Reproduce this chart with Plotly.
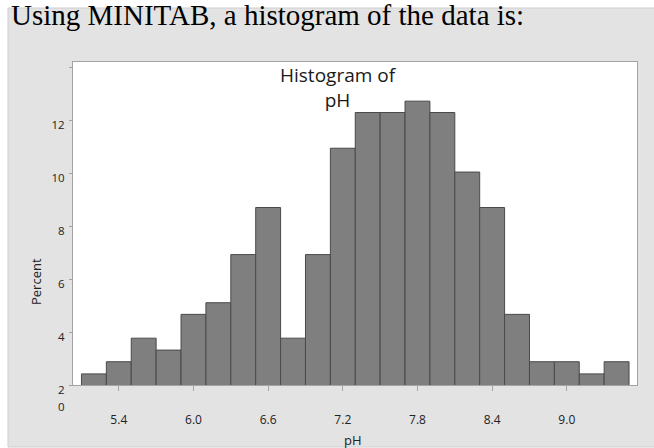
import plotly.graph_objects as go

# pH histogram: bin centres (bin width 0.2) and bar heights in percent as read on the axis
bin_centers = [5.2, 5.4, 5.6, 5.8, 6.0, 6.2, 6.4, 6.6, 6.8, 7.0, 7.2,
               7.4, 7.6, 7.8, 8.0, 8.2, 8.4, 8.6, 8.8, 9.0, 9.2, 9.4]
percent = [2.42, 2.88, 3.77, 3.32, 4.67, 5.11, 6.93, 8.71, 3.77, 6.93, 10.95,
           12.30, 12.30, 12.73, 12.30, 10.05, 8.71, 4.67, 2.88, 2.88, 2.42, 2.88]
bin_width = 0.2

x_ticks = [5.4, 6.0, 6.6, 7.2, 7.8, 8.4, 9.0]
x_tick_labels = ["5.4", "6.0", "6.6", "7.2", "7.8", "8.4", "9.0"]
y_ticks = [2, 4, 6, 8, 10, 12, 14]
y_tick_labels = ["2", "4", "6", "8", "10", "12", ""]

W, H = 654, 448
L, R, T, B = 73, 17, 62, 63
PW, PH = W - L - R, H - T - B


def px(x):
    return (x - L) / PW


def py(y):
    return (H - B - y) / PH


FONT = "Open Sans"
AXIS_GREY = "#a3a3a3"

fig = go.Figure(
    go.Bar(
        x=bin_centers,
        y=percent,
        width=bin_width,
        marker=dict(color="#7f7f7f", line=dict(color="#4a4a4a", width=1)),
        hoverinfo="x+y",
    )
)

fig.update_layout(
    width=W,
    height=H,
    margin=dict(l=L, r=R, t=T, b=B, pad=0),
    paper_bgcolor="white",
    plot_bgcolor="white",
    showlegend=False,
    font=dict(family=FONT, color="#222222", size=12),
    shapes=[
        # light grey panel behind the chart
        dict(type="rect", xref="paper", yref="paper", layer="below",
             x0=px(8), x1=px(W + 2), y0=py(447), y1=py(8),
             fillcolor="#e3e3e3", line=dict(color="#cfcfcf", width=1)),
        # white data region
        dict(type="rect", xref="paper", yref="paper", layer="below",
             x0=0, x1=1, y0=0, y1=1,
             fillcolor="white", line=dict(width=0)),
    ],
    annotations=[
        dict(text="Using MINITAB, a histogram of the data is:",
             xref="paper", yref="paper", x=px(9), y=py(15),
             xanchor="left", yanchor="middle", showarrow=False,
             font=dict(family="Liberation Serif", size=29, color="black")),
        dict(text="Histogram of<br>pH", xref="paper", yref="paper",
             x=px(338), y=py(87), xanchor="center", yanchor="middle",
             showarrow=False, font=dict(family=FONT, size=19, color="#1a1a1a")),
        dict(text="Percent", xref="paper", yref="paper", x=px(36), y=py(282),
             xanchor="center", yanchor="middle", textangle=-90, showarrow=False,
             font=dict(family=FONT, size=13, color="#222222")),
        dict(text="pH", xref="paper", yref="paper", x=px(353), y=py(440),
             xanchor="center", yanchor="middle", showarrow=False,
             font=dict(family=FONT, size=13, color="#222222")),
        dict(text="0", xref="paper", yref="paper", x=px(67), y=py(407),
             xanchor="right", yanchor="middle", showarrow=False,
             font=dict(family=FONT, size=11.5, color="#222222")),
    ],
)

fig.update_xaxes(
    range=[5.032, 9.564],
    tickvals=x_ticks,
    ticktext=x_tick_labels,
    ticks="outside",
    ticklen=5,
    tickcolor=AXIS_GREY,
    tickfont=dict(family=FONT, size=12, color="#222222"),
    ticklabelstandoff=19,
    showline=True,
    linecolor=AXIS_GREY,
    linewidth=1,
    mirror=True,
    showgrid=False,
    zeroline=False,
)

fig.update_yaxes(
    range=[2, 14.21],
    tickvals=y_ticks,
    ticktext=y_tick_labels,
    ticks="outside",
    ticklen=3,
    tickcolor=AXIS_GREY,
    tickfont=dict(family=FONT, size=11.5, color="#222222"),
    ticklabelstandoff=2,
    ticklabelshift=5,
    showline=True,
    linecolor=AXIS_GREY,
    linewidth=1,
    mirror=True,
    showgrid=False,
    zeroline=False,
)

fig.write_html("out.html")
